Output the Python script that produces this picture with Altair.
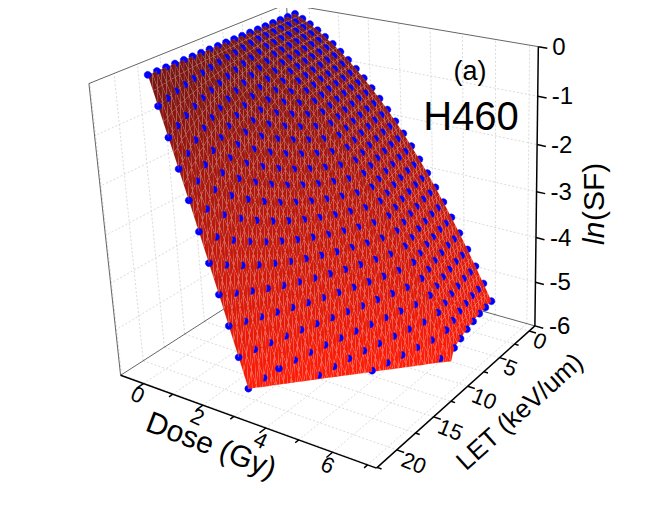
import numpy as np
import pandas as pd
import altair as alt

# ---------------- data ----------------
DOSE = [0.0, 0.25, 0.5, 0.75, 1.0, 1.25, 1.5, 1.75, 2.0, 2.25, 2.5, 2.75, 3.0, 3.25,
        3.5, 3.75, 4.0, 4.25, 4.5, 4.75, 5.0, 5.25, 5.5, 5.75, 6.0, 6.25]
LET = [1, 2, 3, 4, 5, 6, 7, 8, 9, 10, 11, 12, 13, 14, 15, 16, 17, 18, 19]
# linear-quadratic parameters of the fitted surface, one per LET value
ALPHA = [0.29, 0.31, 0.33, 0.355, 0.38, 0.41, 0.44, 0.54, 0.634, 0.733, 0.839, 0.952,
         1.076, 1.212, 1.365, 1.539, 1.742, 1.983, 2.28]
BETA = [0.092, 0.0895, 0.087, 0.0845, 0.082, 0.0795, 0.077, 0.0745, 0.072, 0.0695, 0.067,
        0.0645, 0.062, 0.0595, 0.057, 0.0545, 0.052, 0.0495, 0.047]

DOSE_MAJOR = [0, 2, 4, 6]
DOSE_MINOR = [1, 3, 5, 7]
LET_MAJOR = [0, 5, 10, 15, 20]
LET_MINOR = [2.5, 7.5, 12.5, 17.5, 22.5]
LNSF_MAJOR = [0, -1, -2, -3, -4, -5, -6]
DOSE_GRID = [0, 1, 2, 3, 4, 5, 6, 7]
LET_GRID = [0, 2.5, 5, 7.5, 10, 12.5, 15, 17.5, 20, 22.5]

DOSE_LIM = (-0.8, 7.25)
LET_LIM = (-1.0, 22.6)
LNSF_LIM = (-6.0, 0.0)

# ---------------- layout: where the box corners sit on the page ----------------
CAL = [
    ((0, 1, 0), (120, 375)), ((1, 1, 0), (377, 468)), ((1, 0, 0), (535, 325)),
    ((0, 1, 1), (89, 84)), ((1, 0, 1), (538, 45)), ((0, 0, 1), (287, 4)),
    ((1, 0, 5 / 6), (537.5, 97)), ((1, 0, 4 / 6), (537, 145)), ((1, 0, 3 / 6), (536.5, 192)),
    ((1, 0, 2 / 6), (536, 238)), ((1, 0, 1 / 6), (535.5, 283)),
]
MARGIN = 8
S = 100.0


def fit_camera(cal):
    rows = []
    for (X, Y, Z), (u, v) in cal:
        u /= S
        v /= S
        rows.append([X, Y, Z, 1, 0, 0, 0, 0, -u * X, -u * Y, -u * Z, -u])
        rows.append([0, 0, 0, 0, X, Y, Z, 1, -v * X, -v * Y, -v * Z, -v])
    _, _, vt = np.linalg.svd(np.array(rows, dtype=float))
    return vt[-1].reshape(3, 4)


P = fit_camera(CAL)
SGN = np.sign(P[2] @ np.array([0.5, 0.5, 0.5, 1.0]))


def to_box(d, L, z):
    return ((d - DOSE_LIM[0]) / (DOSE_LIM[1] - DOSE_LIM[0]),
            (L - LET_LIM[0]) / (LET_LIM[1] - LET_LIM[0]),
            (z - LNSF_LIM[0]) / (LNSF_LIM[1] - LNSF_LIM[0]))


def project(d, L, z):
    p = P @ np.array([*to_box(d, L, z), 1.0])
    return (p[0] / p[2] * S - MARGIN, p[1] / p[2] * S - MARGIN, SGN * p[2])


def ring(pts):
    r = [[round(float(x), 2), round(float(y), 2)] for x, y in pts]
    return r + [r[0]]


def poly_feature(pts, props):
    return {"type": "Feature", "geometry": {"type": "Polygon", "coordinates": [ring(pts)]},
            "properties": props}


def line_feature(pts):
    return {"type": "Feature",
            "geometry": {"type": "LineString",
                         "coordinates": [[round(float(x), 2), round(float(y), 2)] for x, y in pts]},
            "properties": {}}


def seg(a, b):
    pa = project(*a)
    pb = project(*b)
    return line_feature([pa[:2], pb[:2]])


def surf_color(z):
    t = min(max(-z / 6.0, 0.0), 1.0)
    c0 = (118, 22, 18)
    c1 = (255, 28, 6)
    r, g, b = [int(round(c0[k] + (c1[k] - c0[k]) * t)) for k in range(3)]
    return f"#{r:02x}{g:02x}{b:02x}"


def clip(poly, zmin=-6.0):
    out = []
    n = len(poly)
    for k in range(n):
        p1, p2 = poly[k], poly[(k + 1) % n]
        in1, in2 = p1[2] >= zmin, p2[2] >= zmin
        if in1:
            out.append(p1)
        if in1 != in2:
            t = (zmin - p1[2]) / (p2[2] - p1[2])
            out.append(tuple(p1[m] + t * (p2[m] - p1[m]) for m in range(3)))
    return out


def mid(a, b):
    return tuple((a[m] + b[m]) / 2 for m in range(3))


def split(tri):
    # split a flat facet into 4 smaller facets (same plane) for a finer mesh look
    a, b, c = tri
    ab, bc, ca = mid(a, b), mid(b, c), mid(c, a)
    return [[a, ab, ca], [ab, b, bc], [ca, bc, c], [ab, bc, ca]]


# ---------------- surface + points, painter's order ----------------
V = {}
for j, (L, a, b) in enumerate(zip(LET, ALPHA, BETA)):
    for i, d in enumerate(DOSE):
        V[(i, j)] = (d, L, -(a * d + b * d * d))

corner_depths = [project(d, L, z)[2] for d in DOSE_LIM for L in LET_LIM for z in LNSF_LIM]
EPS = 1e-4 * (max(corner_depths) - min(corner_depths))

MESH = "rgba(255,220,220,0.20)"
items = []
for i in range(len(DOSE) - 1):
    for j in range(len(LET) - 1):
        tris = [[V[(i, j)], V[(i + 1, j)], V[(i + 1, j + 1)]],
                [V[(i, j)], V[(i + 1, j + 1)], V[(i, j + 1)]]]
        for big in tris:
            for tri in split(big):
                pc = clip(tri)
                if len(pc) < 3:
                    continue
                pr = [project(*q) for q in pc]
                depth = float(np.mean([q[2] for q in pr]))
                zc = float(np.mean([q[2] for q in pc]))
                items.append((depth, poly_feature([q[:2] for q in pr],
                                                  {"fill": surf_color(zc), "stroke": MESH})))

R = 3.6
ang = np.linspace(0, 2 * np.pi, 13)[:-1]
for (i, j), (d, L, z) in V.items():
    if z < -6.0 - 1e-9:
        continue
    cx, cy, dep = project(d, L, z)
    pts = [(cx + R * np.cos(a), cy + R * np.sin(a)) for a in ang]
    items.append((dep - EPS, poly_feature(pts, {"fill": "#0000ff", "stroke": "#0000ff"})))

items.sort(key=lambda t: -t[0])
surf_feats = [f for _, f in items]

# ---------------- box, grid, axes ----------------
dmin, dmax = DOSE_LIM
lmin, lmax = LET_LIM
zmin, zmax = LNSF_LIM

grid = []
for L in LET_GRID:
    grid.append(seg((dmin, L, zmin), (dmin, L, zmax)))
    grid.append(seg((dmin, L, zmin), (dmax, L, zmin)))
for d in DOSE_GRID:
    grid.append(seg((d, lmin, zmin), (d, lmin, zmax)))
    grid.append(seg((d, lmin, zmin), (d, lmax, zmin)))
for z in LNSF_MAJOR[1:-1]:
    grid.append(seg((dmin, lmin, z), (dmin, lmax, z)))
    grid.append(seg((dmin, lmin, z), (dmax, lmin, z)))

back = [
    seg((dmin, lmax, zmin), (dmin, lmax, zmax)),
    seg((dmin, lmax, zmax), (dmin, lmin, zmax)),
    seg((dmin, lmin, zmax), (dmax, lmin, zmax)),
    seg((dmin, lmin, zmax), (dmin, lmin, zmin)),
    seg((dmin, lmax, zmin), (dmin, lmin, zmin)),
    seg((dmin, lmin, zmin), (dmax, lmin, zmin)),
]

axes = [
    seg((dmin, lmax, zmin), (dmax, lmax, zmin)),
    seg((dmax, lmax, zmin), (dmax, lmin, zmin)),
    seg((dmax, lmin, zmin), (dmax, lmin, zmax)),
]
lspan = lmax - lmin
dspan = dmax - dmin
for d in DOSE_MAJOR:
    axes.append(seg((d, lmax, zmin), (d, lmax + 0.032 * lspan, zmin)))
for d in DOSE_MINOR:
    axes.append(seg((d, lmax, zmin), (d, lmax + 0.018 * lspan, zmin)))
for L in LET_MAJOR:
    axes.append(seg((dmax, L, zmin), (dmax + 0.026 * dspan, L, zmin)))
for L in LET_MINOR:
    axes.append(seg((dmax, L, zmin), (dmax + 0.015 * dspan, L, zmin)))
for z in LNSF_MAJOR:
    axes.append(seg((dmax, lmin, z), (dmax + 0.032 * dspan, lmin, z)))

# ---------------- labels ----------------
dose_lab = []
for d in DOSE_MAJOR:
    x, y, _ = project(d, lmax + 0.062 * lspan, zmin)
    dose_lab.append({"x": x + 7, "y": y + 3, "t": str(d)})
let_lab = []
for L in LET_MAJOR:
    x, y, _ = project(dmax + 0.03 * dspan, L, zmin)
    let_lab.append({"x": x - 3, "y": y + 6, "t": str(L)})
z_lab = []
for z in LNSF_MAJOR:
    x, y, _ = project(dmax, lmin, z)
    z_lab.append({"x": x + 14, "y": y + 1, "t": str(z)})

PROJ = dict(type="identity", scale=1, translate=[0, 0])
FONT = "Liberation Sans"


def fc(feats):
    return alt.Data(values={"type": "FeatureCollection", "features": feats},
                    format=alt.DataFormat(property="features", type="json"))


def lines(feats, **style):
    return alt.Chart(fc(feats)).mark_geoshape(filled=False, **style).project(**PROJ)


def texts(rows, **mk):
    return alt.Chart(pd.DataFrame(rows)).mark_text(font=FONT, color="black", **mk).encode(
        longitude="x:Q", latitude="y:Q", text="t:N").project(**PROJ)


grid_layer = lines(grid, stroke="#d0d0d0", strokeWidth=0.8, strokeDash=[2, 2])
back_layer = lines(back, stroke="#555555", strokeWidth=0.9)
surf_layer = alt.Chart(fc(surf_feats)).mark_geoshape(strokeWidth=0.4).encode(
    fill=alt.Fill("properties.fill:N", scale=None),
    stroke=alt.Stroke("properties.stroke:N", scale=None),
).project(**PROJ)
axes_layer = lines(axes, stroke="black", strokeWidth=1.5)

t_dose = texts(dose_lab, fontSize=22, angle=25, align="center", baseline="middle")
t_let = texts(let_lab, fontSize=22, angle=22, align="left", baseline="middle")
t_z = texts(z_lab, fontSize=24, align="left", baseline="middle")
t_dose_title = texts([{"x": 203, "y": 438, "t": "Dose (Gy)"}], fontSize=30, angle=21,
                     align="center", baseline="middle")
t_let_title = texts([{"x": 512, "y": 404, "t": "LET (keV/um)"}], fontSize=26, angle=318,
                    align="center", baseline="middle")
t_ln = texts([{"x": 587, "y": 237, "t": "ln"}], fontSize=30, angle=270, align="left",
             baseline="middle", fontStyle="italic")
t_sf = texts([{"x": 587, "y": 213, "t": "(SF)"}], fontSize=30, angle=270, align="left",
             baseline="middle")
t_a = texts([{"x": 462, "y": 72, "t": "(a)"}], fontSize=27, align="center", baseline="alphabetic")
t_h = texts([{"x": 463, "y": 122, "t": "H460"}], fontSize=40, align="center", baseline="alphabetic")

chart = alt.layer(
    grid_layer, back_layer, surf_layer, axes_layer,
    t_dose, t_let, t_z, t_dose_title, t_let_title, t_ln, t_sf, t_a, t_h,
).properties(width=648, height=493, padding=0, background="white").configure_view(stroke=None)

chart.save("out.html", embed_options={"renderer": "svg", "actions": False})
